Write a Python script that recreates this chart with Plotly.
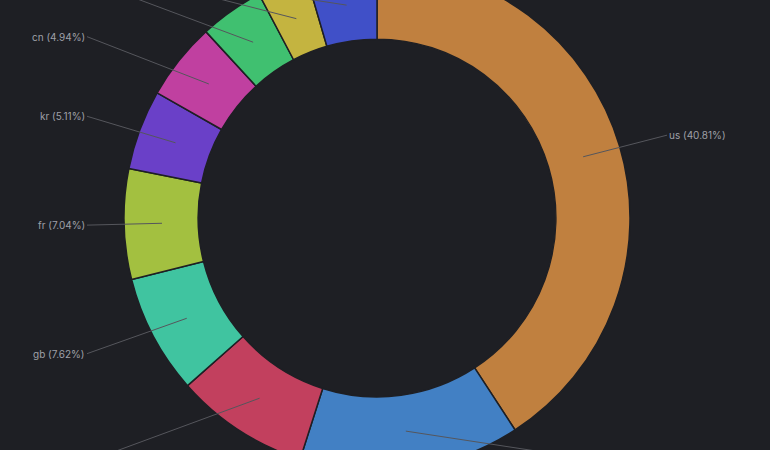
import math
import plotly.graph_objects as go

labels = ["us", "de", "jp", "gb", "fr", "kr", "cn", "in", "ca", "br"]
values = [40.81, 14.10, 8.56, 7.62, 7.04, 5.11, 4.94, 4.10, 3.20, 4.52]
colors = ["#c0803f", "#4280c4", "#c2405e", "#40c4a0", "#a3c040",
          "#6a40c8", "#c040a0", "#40c070", "#c4b440", "#4050c8"]

W, H, SHIFT = 770, 506, 35
CX, CY, R = 377, H / 2, 253

fig = go.Figure(go.Pie(
    labels=labels, values=values, hole=0.707, sort=False, direction="clockwise",
    rotation=0, marker=dict(colors=colors, line=dict(color="#1e1f24", width=1.5)),
    textinfo="none", hoverinfo="label+percent",
    domain=dict(x=[0, 754/770], y=[0, 1]), showlegend=False,
))

total = sum(values)
cum = 0
for lab, v in zip(labels, values):
    mid = (cum + v / 2) / total * 2 * math.pi
    cum += v
    s, c = math.sin(mid), math.cos(mid)
    px, py = CX + 0.85 * R * s, CY - 0.85 * R * c
    right = s > 0
    lx = CX + (290 if right else -290)
    ly = CY - 1.15 * R * c
    fig.add_annotation(
        x=px / W, y=1 - py / H, xref="paper", yref="paper",
        ax=lx - px, ay=ly - py,
        showarrow=True, arrowhead=0, arrowwidth=1, arrowcolor="#55565c",
        text=f"{lab} ({v / total * 100:.2f}%)",
        font=dict(color="#9fa0a8", size=10, family="Inter"),
        xanchor="left" if right else "right", standoff=0,
    )

fig.update_layout(width=W, height=H, margin=dict(l=0, r=0, t=0, b=0),
                  paper_bgcolor="#1e1f24", plot_bgcolor="#1e1f24")
post = ("document.body.style.margin='0';document.body.style.background='#1e1f24';"
        "document.body.style.overflow='hidden';"
        "var d=document.getElementById('{plot_id}');d.style.marginTop='-" + str(SHIFT) + "px';")
fig.write_html("out.html", post_script=post)
